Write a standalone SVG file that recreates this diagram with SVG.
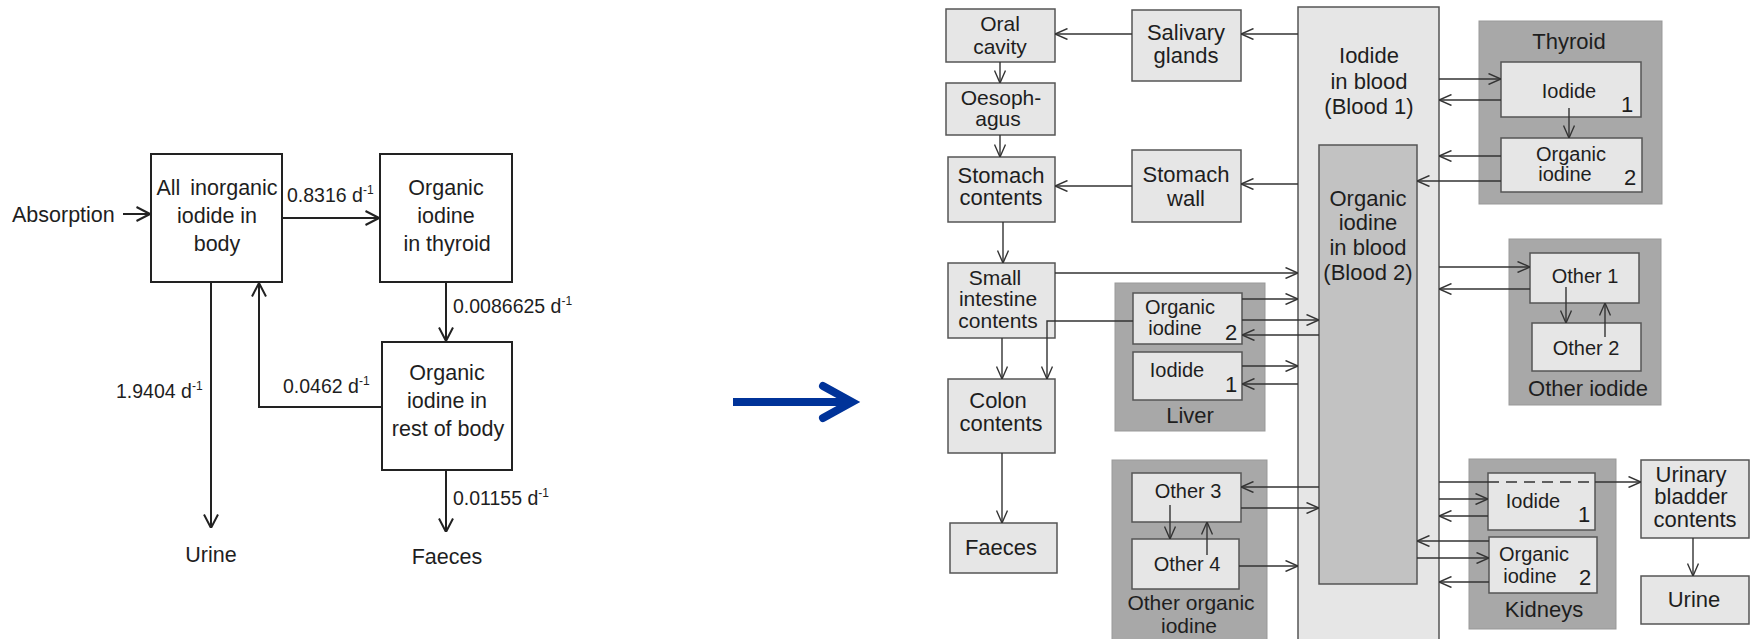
<svg xmlns="http://www.w3.org/2000/svg" width="1751" height="639" viewBox="0 0 1751 639">
  <defs>
    <marker id="headL" viewBox="0 0 14 16" refX="14" refY="8" markerWidth="14" markerHeight="16" markerUnits="userSpaceOnUse" orient="auto">
      <path d="M0.5,1 L14,8 L0.5,15" fill="none" stroke="#222" stroke-width="2"/>
    </marker>
    <marker id="head" viewBox="0 0 13 12" refX="13" refY="6" markerWidth="13" markerHeight="12" markerUnits="userSpaceOnUse" orient="auto">
      <path d="M0.5,0.5 L13,6 L0.5,11.5" fill="none" stroke="#333" stroke-width="1.4"/>
    </marker>
  </defs>
  <style>
    text { font-family: "Liberation Sans", Arial, sans-serif; fill: #1e1e1e; }
    .box { fill: #ffffff; stroke: #222; stroke-width: 2; }
    .lbl { font-size: 21.5px; text-anchor: middle; }
    .rate { font-size: 19.5px; }
    .sup { font-size: 12px; }
    .flow { fill: none; stroke: #222; stroke-width: 2; marker-end: url(#headL); }
    .light { fill: #e6e6e6; stroke: #555; stroke-width: 1.5; }
    .grp { fill: #a8a8a8; stroke: #999; stroke-width: 1; }
    .mid { fill: #c2c2c2; stroke: #555; stroke-width: 1.5; }
    .t22 { font-size: 22px; text-anchor: middle; }
    .t21 { font-size: 21px; text-anchor: middle; }
    .t20 { font-size: 20px; text-anchor: middle; }
    .num { font-size: 22px; text-anchor: middle; }
    .c { fill: none; stroke: #333; stroke-width: 1.4; }
    .ca { fill: none; stroke: #333; stroke-width: 1.4; marker-end: url(#head); }
  </style>

  <!-- ===== Simple three-compartment model ===== -->
  <g id="inorganic-body">
    <rect class="box" x="151" y="154" width="131" height="128"/>
    <text class="lbl" x="217" y="195">All<tspan dx="10">inorganic</tspan></text>
    <text class="lbl" x="217" y="223">iodide in</text>
    <text class="lbl" x="217" y="251">body</text>
  </g>
  <g id="organic-thyroid">
    <rect class="box" x="380" y="154" width="132" height="128"/>
    <text class="lbl" x="446" y="195">Organic</text>
    <text class="lbl" x="446" y="223">iodine</text>
    <text class="lbl" x="447" y="251">in thyroid</text>
  </g>
  <g id="organic-rest">
    <rect class="box" x="382" y="342" width="130" height="128"/>
    <text class="lbl" x="447" y="380">Organic</text>
    <text class="lbl" x="447" y="408">iodine in</text>
    <text class="lbl" x="448" y="436">rest of body</text>
  </g>
  <g id="absorption">
    <text x="12" y="222" style="font-size:21.5px">Absorption</text>
  </g>
  <g id="urine-out">
    <text class="lbl" x="211" y="562">Urine</text>
  </g>
  <g id="faeces-out">
    <text class="lbl" x="447" y="564">Faeces</text>
  </g>

  <g id="model-flows">
    <path class="flow" d="M123,214 H150"/>
    <path class="flow" d="M282,218 H379"/>
    <path class="flow" d="M446,282 V341"/>
    <path class="flow" d="M382,407 H259 V283"/>
    <path class="flow" d="M211,282 V528"/>
    <path class="flow" d="M446,470 V532"/>
    <text class="rate" x="287" y="202">0.8316 d<tspan class="sup" dy="-8">-1</tspan></text>
    <text class="rate" x="453" y="313">0.0086625 d<tspan class="sup" dy="-8">-1</tspan></text>
    <text class="rate" x="283" y="393">0.0462 d<tspan class="sup" dy="-8">-1</tspan></text>
    <text class="rate" x="116" y="398">1.9404 d<tspan class="sup" dy="-8">-1</tspan></text>
    <text class="rate" x="453" y="505">0.01155 d<tspan class="sup" dy="-8">-1</tspan></text>
  </g>

  <!-- transition arrow between the two models -->
  <g id="transition-arrow">
    <path d="M733,402 H848" fill="none" stroke="#003399" stroke-width="8"/>
    <path d="M823,386 L852,402 L823,418" fill="none" stroke="#003399" stroke-width="8" stroke-linecap="round" stroke-linejoin="miter"/>
  </g>

  <!-- ===== Detailed systemic model ===== -->
  <g id="blood1">
    <rect class="light" x="1298" y="7" width="141" height="640"/>
    <text class="t22" x="1369" y="63">Iodide</text>
    <text class="t22" x="1369" y="89">in blood</text>
    <text class="t22" x="1369" y="114">(Blood 1)</text>
  </g>
  <g id="blood2">
    <rect class="mid" x="1319" y="145" width="98" height="439"/>
    <text class="t22" x="1368" y="206">Organic</text>
    <text class="t22" x="1368" y="230">iodine</text>
    <text class="t22" x="1368" y="255">in blood</text>
    <text class="t22" x="1368" y="280">(Blood 2)</text>
  </g>

  <g id="oral-cavity">
    <rect class="light" x="946" y="9" width="109" height="53"/>
    <text class="t21" x="1000" y="31">Oral</text>
    <text class="t21" x="1000" y="54">cavity</text>
  </g>
  <g id="salivary-glands">
    <rect class="light" x="1132" y="10" width="109" height="71"/>
    <text class="t22" x="1186" y="40">Salivary</text>
    <text class="t22" x="1186" y="63">glands</text>
  </g>
  <g id="oesophagus">
    <rect class="light" x="946" y="83" width="109" height="52"/>
    <text class="t21" x="1001" y="105">Oesoph-</text>
    <text class="t21" x="998" y="126">agus</text>
  </g>
  <g id="stomach-contents">
    <rect class="light" x="948" y="157" width="107" height="65"/>
    <text class="t22" x="1001" y="183">Stomach</text>
    <text class="t22" x="1001" y="205">contents</text>
  </g>
  <g id="stomach-wall">
    <rect class="light" x="1132" y="150" width="109" height="72"/>
    <text class="t22" x="1186" y="182">Stomach</text>
    <text class="t22" x="1186" y="206">wall</text>
  </g>
  <g id="small-intestine">
    <rect class="light" x="948" y="263" width="107" height="75"/>
    <text class="t21" x="995" y="285">Small</text>
    <text class="t21" x="998" y="306">intestine</text>
    <text class="t21" x="998" y="328">contents</text>
  </g>
  <g id="colon">
    <rect class="light" x="948" y="379" width="107" height="74"/>
    <text class="t22" x="998" y="408">Colon</text>
    <text class="t22" x="1001" y="431">contents</text>
  </g>
  <g id="faeces">
    <rect class="light" x="950" y="523" width="107" height="50"/>
    <text class="t22" x="1001" y="555">Faeces</text>
  </g>

  <g id="liver">
    <rect class="grp" x="1115" y="283" width="150" height="148"/>
    <rect class="light" x="1133" y="293" width="109" height="51"/>
    <text class="t20" x="1180" y="314">Organic</text>
    <text class="t20" x="1175" y="335">iodine</text>
    <text class="num" x="1231" y="340">2</text>
    <rect class="light" x="1133" y="352" width="109" height="48"/>
    <text class="t20" x="1177" y="377">Iodide</text>
    <text class="num" x="1231" y="392">1</text>
    <text class="t22" x="1190" y="423">Liver</text>
  </g>

  <g id="other-organic">
    <rect class="grp" x="1112" y="460" width="155" height="185"/>
    <rect class="light" x="1132" y="473" width="109" height="49"/>
    <text class="t20" x="1188" y="498">Other 3</text>
    <rect class="light" x="1132" y="539" width="107" height="50"/>
    <text class="t20" x="1187" y="571">Other 4</text>
    <text class="t21" x="1191" y="610">Other organic</text>
    <text class="t21" x="1189" y="633">iodine</text>
  </g>

  <g id="thyroid">
    <rect class="grp" x="1479" y="21" width="183" height="183"/>
    <text class="t22" x="1569" y="49">Thyroid</text>
    <rect class="light" x="1501" y="62" width="140" height="55"/>
    <text class="t20" x="1569" y="98">Iodide</text>
    <text class="num" x="1627" y="112">1</text>
    <rect class="light" x="1501" y="138" width="141" height="54"/>
    <text class="t20" x="1571" y="161">Organic</text>
    <text class="t20" x="1565" y="181">iodine</text>
    <text class="num" x="1630" y="185">2</text>
  </g>

  <g id="other-iodide">
    <rect class="grp" x="1509" y="239" width="152" height="166"/>
    <rect class="light" x="1530" y="253" width="109" height="50"/>
    <text class="t20" x="1585" y="283">Other 1</text>
    <rect class="light" x="1532" y="323" width="109" height="48"/>
    <text class="t20" x="1586" y="355">Other 2</text>
    <text class="t22" x="1588" y="396">Other iodide</text>
  </g>

  <g id="kidneys">
    <rect class="grp" x="1469" y="459" width="147" height="170"/>
    <rect class="light" x="1488" y="473" width="107" height="57"/>
    <text class="t20" x="1533" y="508">Iodide</text>
    <text class="num" x="1584" y="522">1</text>
    <rect class="light" x="1489" y="537" width="108" height="56"/>
    <text class="t20" x="1534" y="561">Organic</text>
    <text class="t20" x="1530" y="583">iodine</text>
    <text class="num" x="1585" y="585">2</text>
    <text class="t22" x="1544" y="617">Kidneys</text>
  </g>

  <g id="urinary-bladder">
    <rect class="light" x="1641" y="460" width="108" height="78"/>
    <text class="t22" x="1691" y="482">Urinary</text>
    <text class="t22" x="1691" y="504">bladder</text>
    <text class="t22" x="1695" y="527">contents</text>
  </g>
  <g id="urine">
    <rect class="light" x="1641" y="576" width="108" height="48"/>
    <text class="t22" x="1694" y="607">Urine</text>
  </g>

  <g id="connectors">
    <!-- alimentary tract -->
    <path class="ca" d="M1298,34 H1241"/>
    <path class="ca" d="M1132,34 H1055"/>
    <path class="ca" d="M1000,62 V83"/>
    <path class="ca" d="M1000,135 V157"/>
    <path class="ca" d="M1298,184 H1241"/>
    <path class="ca" d="M1132,186 H1055"/>
    <path class="ca" d="M1003,222 V263"/>
    <path class="ca" d="M1055,273 H1298"/>
    <path class="ca" d="M1002,338 V379"/>
    <path class="ca" d="M1002,453 V523"/>
    <path class="ca" d="M1133,321 H1047 V379"/>
    <!-- liver -->
    <path class="ca" d="M1242,299 H1298"/>
    <path class="ca" d="M1242,320 H1319"/>
    <path class="ca" d="M1319,335 H1242"/>
    <path class="ca" d="M1242,366 H1298"/>
    <path class="ca" d="M1298,384 H1242"/>
    <!-- other organic iodine -->
    <path class="ca" d="M1319,487 H1241"/>
    <path class="ca" d="M1241,508 H1319"/>
    <path class="ca" d="M1239,566 H1298"/>
    <path class="ca" d="M1170,505 V539"/>
    <path class="ca" d="M1207,555 V522"/>
    <!-- thyroid -->
    <path class="ca" d="M1439,79 H1501"/>
    <path class="ca" d="M1501,100 H1439"/>
    <path class="ca" d="M1569,108 V138"/>
    <path class="ca" d="M1501,156 H1439"/>
    <path class="ca" d="M1501,181 H1417"/>
    <!-- other iodide -->
    <path class="ca" d="M1439,267 H1530"/>
    <path class="ca" d="M1530,289 H1439"/>
    <path class="ca" d="M1566,287 V323"/>
    <path class="ca" d="M1605,337 V303"/>
    <!-- kidneys and urinary path -->
    <path class="c" d="M1439,482 H1488"/>
    <path class="c" d="M1488,482 H1595" stroke-dasharray="11 7" stroke="#555"/>
    <path class="ca" d="M1595,482 H1641"/>
    <path class="ca" d="M1439,499 H1488"/>
    <path class="ca" d="M1488,516 H1439"/>
    <path class="ca" d="M1489,541 H1417"/>
    <path class="ca" d="M1417,558 H1489"/>
    <path class="ca" d="M1489,582 H1439"/>
    <path class="ca" d="M1693,538 V576"/>
  </g>
</svg>
